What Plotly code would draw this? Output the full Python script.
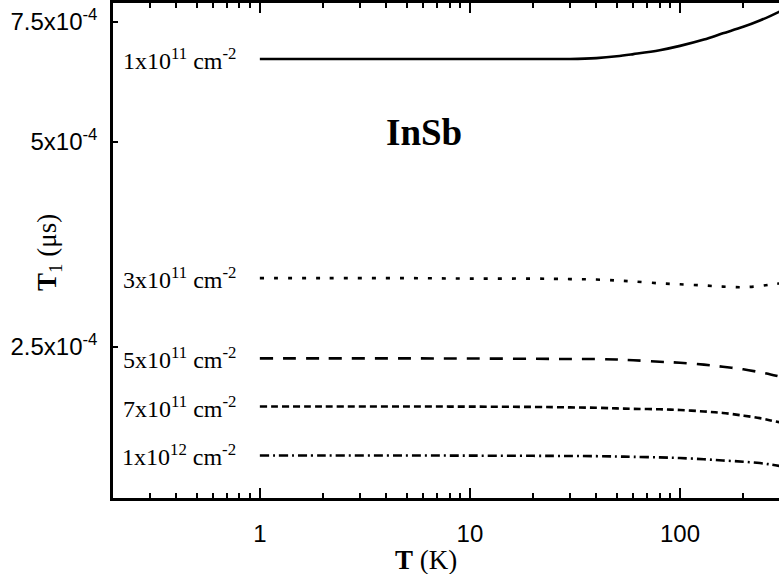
import plotly.graph_objects as go
import math

# ---- data ----
T = [1, 2, 5, 10, 20, 30, 40, 50, 60, 80, 100, 130, 160, 200, 240, 270, 300]

t1_1e11 = [6.62e-4, 6.62e-4, 6.62e-4, 6.62e-4, 6.62e-4, 6.62e-4, 6.64e-4, 6.68e-4, 6.73e-4,
           6.82e-4, 6.92e-4, 7.07e-4, 7.22e-4, 7.38e-4, 7.54e-4, 7.66e-4, 7.78e-4]
t1_3e11 = [3.155e-4, 3.155e-4, 3.155e-4, 3.15e-4, 3.15e-4, 3.145e-4, 3.14e-4, 3.13e-4, 3.12e-4,
           3.10e-4, 3.09e-4, 3.078e-4, 3.066e-4, 3.06e-4, 3.072e-4, 3.088e-4, 3.10e-4]
t1_5e11 = [2.405e-4, 2.405e-4, 2.405e-4, 2.404e-4, 2.402e-4, 2.40e-4, 2.40e-4, 2.396e-4, 2.39e-4,
           2.378e-4, 2.37e-4, 2.355e-4, 2.338e-4, 2.318e-4, 2.295e-4, 2.278e-4, 2.26e-4]
t1_7e11 = [2.044e-4, 2.044e-4, 2.044e-4, 2.043e-4, 2.041e-4, 2.038e-4, 2.035e-4, 2.031e-4, 2.028e-4,
           2.025e-4, 2.02e-4, 2.01e-4, 2.0e-4, 1.982e-4, 1.965e-4, 1.95e-4, 1.937e-4]
t1_1e12 = [1.732e-4, 1.732e-4, 1.732e-4, 1.731e-4, 1.73e-4, 1.729e-4, 1.728e-4, 1.726e-4, 1.724e-4,
           1.721e-4, 1.717e-4, 1.71e-4, 1.703e-4, 1.696e-4, 1.688e-4, 1.68e-4, 1.671e-4]

series_names = ["1x10<sup>11</sup> cm<sup>-2</sup>", "3x10<sup>11</sup> cm<sup>-2</sup>",
                "5x10<sup>11</sup> cm<sup>-2</sup>", "7x10<sup>11</sup> cm<sup>-2</sup>",
                "1x10<sup>12</sup> cm<sup>-2</sup>"]
series_vals = [t1_1e11, t1_3e11, t1_5e11, t1_7e11, t1_1e12]
series_dash = ["solid", "4px,10px", "13px,10px", "7px,4px", "9px,4px,2px,4px"]

x_ticks = [1, 10, 100]
x_ticktext = ["1", "10", "100"]
y_ticks = [2.5e-4, 5e-4, 7.5e-4]
y_ticktext = ["2.5x10<sup>-4</sup>", "5x10<sup>-4</sup>", "7.5x10<sup>-4</sup>"]

SERIF = "Liberation Serif, Times New Roman, serif"
SANS = "Liberation Sans, Arial, sans-serif"

fig = go.Figure()
for name, vals, dash in zip(series_names, series_vals, series_dash):
    fig.add_trace(go.Scatter(x=T, y=vals, mode="lines", name=name,
                             line=dict(color="black", width=2.6, dash=dash, shape="spline"),
                             showlegend=False, hoverinfo="skip"))

annotations = []
for name, vals in zip(series_names, series_vals):
    annotations.append(dict(text=name, x=0.1877, xref="paper", xanchor="right",
                            y=math.log10(vals[0]), yref="y", yanchor="middle",
                            showarrow=False, font=dict(family=SERIF, size=24, color="black")))

annotations.append(dict(text="<b>InSb</b>", x=0.467, y=0.738, xref="paper", yref="paper",
                        xanchor="center", yanchor="middle", showarrow=False,
                        font=dict(family=SERIF, size=37, color="black")))
annotations.append(dict(text="<b>T</b> (K)", x=0.470, y=-0.125, xref="paper", yref="paper",
                        xanchor="center", yanchor="middle", showarrow=False,
                        font=dict(family=SERIF, size=27, color="black")))
annotations.append(dict(text="<b>T</b><sub>1</sub> (\u03bcs)", x=-0.096, y=0.495,
                        xref="paper", yref="paper", textangle=-90,
                        xanchor="center", yanchor="middle", showarrow=False,
                        font=dict(family=SERIF, size=27, color="black")))

fig.update_layout(
    width=779, height=574,
    margin=dict(l=113, r=0, t=1, b=76),
    paper_bgcolor="white", plot_bgcolor="white",
    showlegend=False,
    annotations=annotations,
    xaxis=dict(type="log", range=[math.log10(0.2), math.log10(296)],
               tickmode="array", tickvals=x_ticks, ticktext=x_ticktext,
               ticks="inside", ticklen=10, tickwidth=2, tickcolor="black",
               minor=dict(dtick="D1", ticks="inside", ticklen=5, tickwidth=2, tickcolor="black",
                          showgrid=False),
               showline=True, linewidth=2.5, linecolor="black", mirror="ticks",
               showgrid=False, zeroline=False,
               tickfont=dict(family=SANS, size=24, color="black"), ticklabelstandoff=12),
    yaxis=dict(type="log", range=[math.log10(1.5e-4), math.log10(8e-4)],
               tickmode="array", tickvals=y_ticks, ticktext=y_ticktext,
               ticks="inside", ticklen=5, tickwidth=2, tickcolor="black",
               showline=True, linewidth=2.5, linecolor="black", mirror=False,
               showgrid=False, zeroline=False,
               tickfont=dict(family=SANS, size=24, color="black"), ticklabelstandoff=8),
)

fig.write_html("out.html")
